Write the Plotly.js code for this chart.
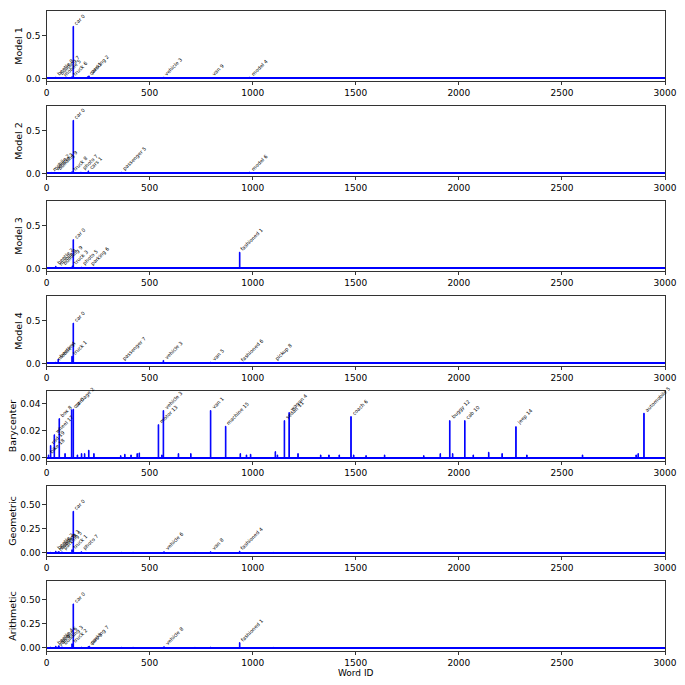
<!DOCTYPE html>
<html>
<head>
<meta charset="utf-8">
<script src="https://cdn.plot.ly/plotly-3.0.1.min.js"></script>
<style>html,body{margin:0;padding:0;background:#fff;}#chart{width:685px;height:685px;}</style>
</head>
<body>
<div id="chart"></div>
<script>
// ---- Data (word id -> weight) ----
const panelNames = ["Model 1", "Model 2", "Model 3", "Model 4", "Barycenter", "Geometric", "Arithmetic"];

const m1Ids  = [20, 45, 60, 75, 124, 130, 200, 206, 360, 420, 569, 720, 796, 940, 985, 1100, 2150];
const m1Vals = [0.004, 0.015, 0.01, 0.006, 0.02, 0.61, 0.02, 0.03, 0.004, 0.003, 0.015, 0.003, 0.01, 0.004, 0.015, 0.003, 0.003];
const m1LabelIds = [130, 200, 206, 569, 985, 124, 60, 45, 796, 75];
const m1Labels   = ["car 0", "cars 1", "parking 2", "vehicle 3", "model 4", "truck 6", "building 7", "beetle 8", "van 9", "mobile 5"];

const m2Ids  = [10, 25, 40, 50, 60, 124, 130, 167, 203, 364, 420, 570, 720, 800, 985, 1100];
const m2Vals = [0.006, 0.012, 0.015, 0.01, 0.008, 0.02, 0.622, 0.015, 0.03, 0.015, 0.006, 0.005, 0.004, 0.004, 0.015, 0.003];
const m2LabelIds = [130, 203, 25, 40, 364, 985, 167, 124, 50];
const m2Labels   = ["car 0", "cars 1", "mobile 2", "vehicle 3", "passenger 5", "model 6", "photo 7", "truck 8", "building 9"];

const m3Ids  = [20, 45, 55, 75, 126, 130, 169, 206, 420, 570, 720, 800, 937, 1100];
const m3Vals = [0.004, 0.025, 0.01, 0.01, 0.03, 0.337, 0.015, 0.01, 0.003, 0.003, 0.003, 0.003, 0.19, 0.003];
const m3LabelIds = [130, 937, 45, 126, 55, 169, 206, 75];
const m3Labels   = ["car 0", "fashioned 1", "beetle 2", "truck 3", "mobile 4", "photo 5", "parking 6", "building 9"];

const m4Ids  = [20, 45, 57, 124, 130, 200, 364, 420, 567, 720, 796, 937, 1101];
const m4Vals = [0.004, 0.015, 0.05, 0.084, 0.472, 0.004, 0.01, 0.004, 0.035, 0.003, 0.015, 0.012, 0.01];
const m4LabelIds = [130, 124, 567, 57, 796, 937, 364, 1101, 45];
const m4Labels   = ["car 0", "truck 1", "vehicle 3", "beetle 4", "van 5", "fashioned 6", "passenger 7", "pickup 8", "mobile 9"];

const bIds  = [10, 20, 38, 62, 90, 122, 130, 150, 170, 185, 205, 230, 360, 380, 410, 440, 450, 543, 560, 567, 640, 700, 796, 869, 940, 970, 990, 1110, 1120, 1154, 1177, 1220, 1330, 1370, 1420, 1477, 1490, 1550, 1640, 1830, 1910, 1956, 1970, 2029, 2070, 2145, 2210, 2277, 2330, 2600, 2860, 2870, 2898];
const bVals = [0.002, 0.009, 0.017, 0.029, 0.003, 0.0355, 0.036, 0.002, 0.003, 0.003, 0.0055, 0.003, 0.0015, 0.0025, 0.002, 0.003, 0.0035, 0.0245, 0.002, 0.035, 0.003, 0.003, 0.035, 0.0233, 0.003, 0.002, 0.0025, 0.0045, 0.002, 0.0275, 0.0335, 0.003, 0.002, 0.002, 0.002, 0.0305, 0.002, 0.0015, 0.002, 0.0015, 0.003, 0.0275, 0.003, 0.0275, 0.002, 0.004, 0.003, 0.023, 0.002, 0.002, 0.002, 0.003, 0.033];
const bLabelIds = [122, 796, 130, 567, 1177, 2898, 1477, 62, 1154, 2029, 1956, 543, 2277, 869, 38, 20, 10];
const bLabels   = ["car 0", "van 1", "carriage 2", "vehicle 3", "wagon 4", "automobile 5", "coach 6", "box 8", "sedan 11", "cab 10", "buggy 12", "motor 13", "jeep 14", "machine 15", "wheel 17", "rod 19", "bike 18"];

const gIds  = [20, 45, 52, 60, 75, 124, 130, 169, 364, 420, 570, 720, 796, 937, 1100];
const gVals = [0.004, 0.015, 0.006, 0.012, 0.008, 0.03, 0.433, 0.01, 0.004, 0.004, 0.01, 0.003, 0.01, 0.015, 0.003];
const gLabelIds = [130, 124, 45, 60, 937, 75, 570, 169, 796, 52];
const gLabels   = ["car 0", "truck 1", "beetle 2", "building 3", "fashioned 4", "parking 5", "vehicle 6", "photo 7", "van 8", "mobile 9"];

const aIds  = [20, 45, 52, 60, 75, 124, 130, 169, 203, 208, 364, 420, 570, 720, 796, 937, 1100];
const aVals = [0.006, 0.015, 0.006, 0.02, 0.008, 0.04, 0.458, 0.006, 0.012, 0.015, 0.004, 0.004, 0.01, 0.003, 0.006, 0.053, 0.003];
const aLabelIds = [130, 937, 124, 75, 45, 203, 60, 208, 570, 52];
const aLabels   = ["car 0", "fashioned 1", "truck 2", "building 3", "beetle 4", "cars 5", "mobile 6", "parking 7", "vehicle 8", "van 9"];

const xTicks = [0, 500, 1000, 1500, 2000, 2500, 3000];

// ---- Build ----
const panels = [
  {ids: m1Ids, vals: m1Vals, lid: m1LabelIds, lab: m1Labels, range: [-0.03, 0.79], tv: [0, 0.5], fmt: ".1f"},
  {ids: m2Ids, vals: m2Vals, lid: m2LabelIds, lab: m2Labels, range: [-0.03, 0.79], tv: [0, 0.5], fmt: ".1f"},
  {ids: m3Ids, vals: m3Vals, lid: m3LabelIds, lab: m3Labels, range: [-0.03, 0.79], tv: [0, 0.5], fmt: ".1f"},
  {ids: m4Ids, vals: m4Vals, lid: m4LabelIds, lab: m4Labels, range: [-0.03, 0.79], tv: [0, 0.5], fmt: ".1f"},
  {ids: bIds, vals: bVals, lid: bLabelIds, lab: bLabels, range: [-0.0025, 0.0495], tv: [0, 0.02, 0.04], fmt: ".2f"},
  {ids: gIds, vals: gVals, lid: gLabelIds, lab: gLabels, range: [-0.035, 0.698], tv: [0, 0.25, 0.5], fmt: ".2f"},
  {ids: aIds, vals: aVals, lid: aLabelIds, lab: aLabels, range: [-0.035, 0.698], tv: [0, 0.25, 0.5], fmt: ".2f"}
];

const W = 685, H = 685;
const font = {family: "DejaVu Sans, sans-serif", size: 9, color: "#000"};
const traces = [];
const annotations = [];
const layout = {
  width: W, height: H,
  margin: {l: 0, r: 0, t: 0, b: 0},
  paper_bgcolor: "#fff", plot_bgcolor: "#fff",
  showlegend: false,
  bargap: 0,
  font: font,
  annotations: annotations
};

panels.forEach((p, i) => {
  const n = i + 1;
  const sfx = n === 1 ? "" : String(n);
  const top = 11 + 95 * i, bot = 81 + 95 * i;
  traces.push({
    type: "bar", x: p.ids, y: p.vals, width: 3,
    marker: {color: "#0000ff", line: {width: 1, color: "#0000ff"}},
    xaxis: "x" + sfx, yaxis: "y" + sfx, hoverinfo: "skip"
  });
  layout["xaxis" + sfx] = {
    domain: [46.5 / W, 665 / W], range: [0, 3000], anchor: "y" + sfx,
    tickvals: xTicks, ticktext: xTicks.map(String),
    ticks: "outside", ticklen: 3.5, tickwidth: 0.8, tickcolor: "#000",
    showline: true, linecolor: "#000", linewidth: 0.8, mirror: true,
    showgrid: false, zeroline: false, tickfont: font,
    title: n === 7 ? {text: "Word ID", font: font, standoff: 2} : {text: ""}
  };
  layout["yaxis" + sfx] = {
    domain: [1 - bot / H, 1 - top / H], range: p.range, anchor: "x" + sfx,
    tickvals: p.tv, tickformat: p.fmt,
    ticks: "outside", ticklen: 3.5, tickwidth: 0.8, tickcolor: "#000",
    showline: true, linecolor: "#000", linewidth: 0.8, mirror: true,
    showgrid: false, zeroline: true, zerolinecolor: "#0000ff", zerolinewidth: 2,
    tickfont: font,
    title: {text: panelNames[i], font: {family: font.family, size: 9.5, color: "#000"}, standoff: 1}
  };
  p.lid.forEach((id, k) => {
    const j = p.ids.indexOf(id);
    const v = j >= 0 ? p.vals[j] : 0;
    annotations.push({
      xref: "x" + sfx, yref: "y" + sfx, x: id, y: v,
      text: p.lab[k], showarrow: false, textangle: -45,
      xanchor: "left", yanchor: "bottom", borderpad: 0, xshift: -1.5, yshift: -1,
      font: {family: font.family, size: 5, color: "#000"}
    });
  });
});

Plotly.newPlot("chart", traces, layout, {staticPlot: true, displayModeBar: false});
</script>
</body>
</html>
